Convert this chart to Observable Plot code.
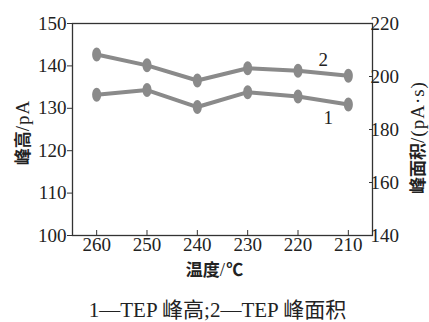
<!DOCTYPE html>
<html>
<head>
<meta charset="utf-8">
<script src="https://cdn.jsdelivr.net/npm/d3@7"></script>
<script src="https://cdn.jsdelivr.net/npm/@observablehq/plot@0.6"></script>
<style>
  body { margin: 0; background: #fff; }
  #cap { font-family: "Liberation Serif", "Noto Sans CJK SC", serif; font-size: 21px; line-height: 24px; color: #222; text-align: center; width: 429px; padding-left: 6px; box-sizing: border-box; margin-top: 16px; }
</style>
</head>
<body>
<div id="chart"></div>
<div id="cap">1—TEP 峰高;2—TEP 峰面积</div>
<script>
const temps = [260, 250, 240, 230, 220, 210];
const peakHeight = [133.2, 134.3, 130.3, 133.8, 132.8, 130.9];   // left axis, pA
const peakArea = [208.3, 204.2, 198.5, 203.1, 202.2, 200.3];     // right axis, pA·s
const leftTicks = [100, 110, 120, 130, 140, 150];
const rightTicks = [140, 160, 180, 200, 220];
const seriesLabels = [{t: "2", x: 215, y: 141.3}, {t: "1", x: 214, y: 127.8}];

// map right-axis values onto the left scale (140..220 -> 100..150)
const toLeft = v => 100 + (v - 140) * 50 / 80;

const rows = [];
temps.forEach((t, i) => {
  rows.push({s: "1", x: t, y: peakHeight[i]});
  rows.push({s: "2", x: t, y: toLeft(peakArea[i])});
});

const k = 0.5523;
const ellipse = {
  draw(ctx) {
    const rx = 4.5, ry = 7;
    ctx.moveTo(0, -ry);
    ctx.bezierCurveTo(k * rx, -ry, rx, -k * ry, rx, 0);
    ctx.bezierCurveTo(rx, k * ry, k * rx, ry, 0, ry);
    ctx.bezierCurveTo(-k * rx, ry, -rx, k * ry, -rx, 0);
    ctx.bezierCurveTo(-rx, -k * ry, -k * rx, -ry, 0, -ry);
    ctx.closePath();
  }
};

const grey = "#8a8a8a";
const chart = Plot.plot({
  width: 429,
  height: 282,
  marginLeft: 72,
  marginRight: 57,
  marginTop: 23,
  marginBottom: 47,
  style: {fontFamily: "'Liberation Serif', 'Noto Sans CJK SC', serif", fontSize: "19px", color: "#222", background: "#fff"},
  x: {domain: [264.8, 205.2]},
  y: {domain: [100, 150]},
  marks: [
    Plot.frame({stroke: "#333", strokeWidth: 1.3}),
    Plot.axisX({ticks: temps, tickSize: -5, tickFormat: () => "", stroke: "#333", label: null}),
    Plot.axisX({ticks: temps, tickSize: 0, tickPadding: 2, fontSize: 19, fill: "#222", label: null}),
    Plot.axisY({ticks: leftTicks, anchor: "left", tickSize: 5, tickPadding: 1, fontSize: 19, fill: "#222", stroke: "#333", label: null}),
    Plot.axisY({ticks: rightTicks.map(toLeft), anchor: "right", tickSize: -4, tickPadding: 2, tickFormat: d => String(Math.round(140 + (d - 100) * 1.6)), fontSize: 19, fill: "#222", stroke: "#333", label: null}),
    Plot.line(rows, {x: "x", y: "y", z: "s", stroke: grey, strokeWidth: 4}),
    Plot.dot(rows, {x: "x", y: "y", symbol: ellipse, fill: grey, stroke: "none"}),
    Plot.text(seriesLabels, {x: "x", y: "y", text: "t", fontSize: 19, fill: "#222"}),
    Plot.text(["峰高/pA"], {frameAnchor: "left", textAnchor: "middle", lineAnchor: "middle", dx: -50, dy: 3, rotate: -90, fontSize: 19, fill: "#222", className: "cjk-label"}),
    Plot.text(["峰面积/(pA·s)"], {frameAnchor: "right", textAnchor: "middle", lineAnchor: "middle", dx: 45, dy: 8, rotate: -90, fontSize: 19, fill: "#222", className: "cjk-label"}),
    Plot.text(["温度/℃"], {frameAnchor: "bottom", textAnchor: "middle", lineAnchor: "middle", dy: 34, dx: -8, fontSize: 19, fill: "#222", className: "cjk-label"})
  ]
});
document.getElementById("chart").appendChild(chart);

// CJK characters in bold sans, latin in serif
chart.querySelectorAll(".cjk-label text").forEach(t => {
  const s = t.textContent;
  t.textContent = "";
  const parts = s.match(/[\u4e00-\u9fff\u2103]+|[^\u4e00-\u9fff\u2103]+/g);
  parts.forEach(p => {
    const ts = document.createElementNS("http://www.w3.org/2000/svg", "tspan");
    ts.textContent = p;
    if (/[\u4e00-\u9fff\u2103]/.test(p)) {
      ts.setAttribute("font-family", "Noto Sans CJK SC");
      ts.setAttribute("font-weight", "bold");
      ts.setAttribute("font-size", "17");
    } else {
      ts.setAttribute("letter-spacing", "1");
    }
    t.appendChild(ts);
  });
});
</script>
</body>
</html>
